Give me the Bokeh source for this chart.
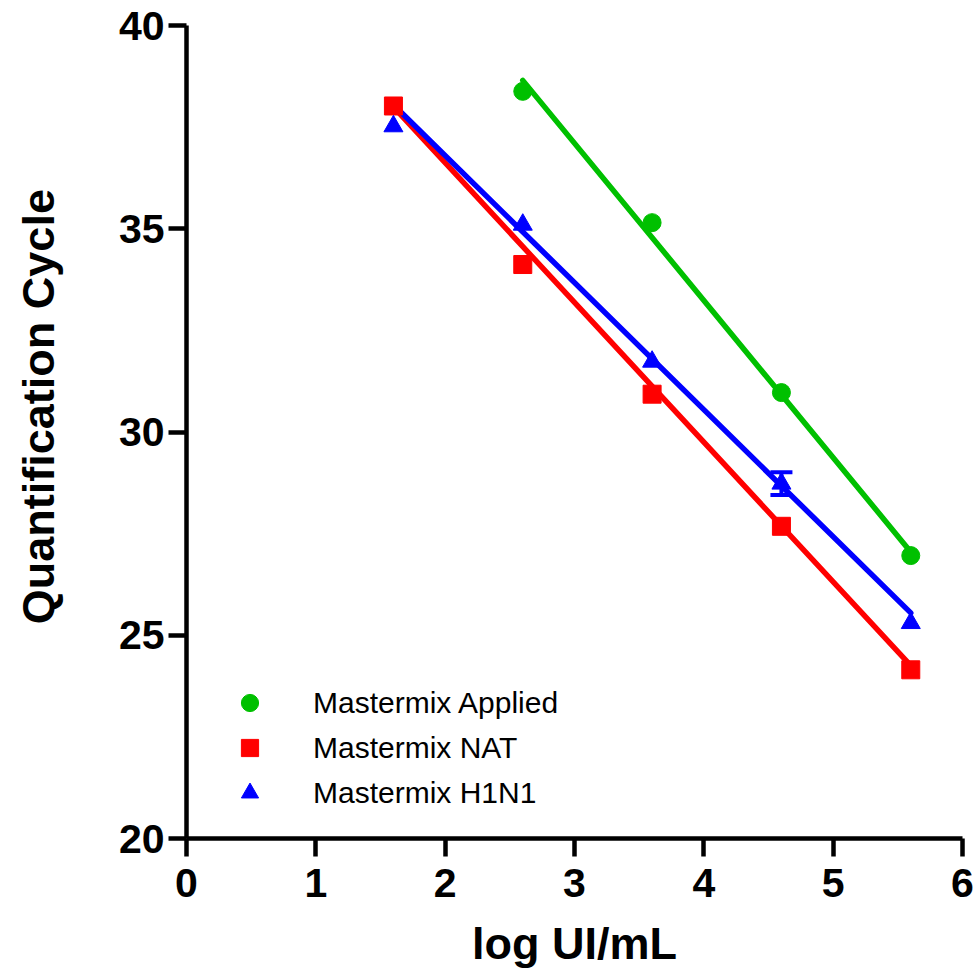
from bokeh.plotting import figure
from bokeh.layouts import row
from bokeh.models import (ColumnDataSource, FixedTicker, Legend, LegendItem,
                          Whisker, TeeHead)
from bokeh.core.properties import value
from bokeh.embed import file_html
from bokeh.resources import INLINE
import math

# ---- data ----
x_applied = [2.6, 3.6, 4.6, 5.6]
y_applied = [38.38, 35.15, 30.97, 26.96]

x_nat = [1.6, 2.6, 3.6, 4.6, 5.6]
y_nat = [38.02, 34.12, 30.93, 27.68, 24.15]

x_h1n1 = [1.6, 2.6, 3.6, 4.6, 5.6]
y_h1n1 = [37.52, 35.10, 31.73, 28.73, 25.30]
err_h1n1 = [0.0, 0.0, 0.0, 0.28, 0.0]

# regression lines (x range and end values)
fit_x_applied = [2.6, 5.6]
fit_y_applied = [38.65, 27.05]
fit_x_nat = [1.6, 5.6]
fit_y_nat = [38.0, 24.25]
fit_x_h1n1 = [1.6, 5.6]
fit_y_h1n1 = [38.05, 25.55]

x_ticks = [0, 1, 2, 3, 4, 5, 6]
y_ticks = [20, 25, 30, 35, 40]

labels = ["Mastermix Applied", "Mastermix NAT", "Mastermix H1N1"]
x_title = "log UI/mL"
y_title = "Quantification Cycle"
GREEN, RED, BLUE = "#00C000", "#FF0000", "#0000FF"

H = 977
TW = 80  # width of the strip holding the y title

p = figure(width=975 - TW, height=H, x_range=(0, 6), y_range=(20, 40),
           output_backend="svg", toolbar_location=None,
           min_border_left=186 - TW, min_border_right=13,
           min_border_top=25, min_border_bottom=139)
p.outline_line_color = None
p.grid.visible = False
p.background_fill_color = "white"

# lines
p.line(fit_x_applied, fit_y_applied, line_color=GREEN, line_width=5.5, line_cap="round")
p.line(fit_x_nat, fit_y_nat, line_color=RED, line_width=5.5, line_cap="round")
p.line(fit_x_h1n1, fit_y_h1n1, line_color=BLUE, line_width=5.5, line_cap="round")

# error bar on H1N1
err_src = ColumnDataSource(dict(
    x=[x for x, e in zip(x_h1n1, err_h1n1) if e > 0],
    upper=[y + e for y, e in zip(y_h1n1, err_h1n1) if e > 0],
    lower=[y - e for y, e in zip(y_h1n1, err_h1n1) if e > 0],
))
wh = Whisker(base="x", upper="upper", lower="lower", source=err_src,
             dimension="height", line_color=BLUE, line_width=4,
             upper_head=TeeHead(size=22, line_color=BLUE, line_width=4),
             lower_head=TeeHead(size=22, line_color=BLUE, line_width=4))
p.add_layout(wh)

# markers
r1 = p.scatter(x_applied, y_applied, marker="circle", size=18,
               fill_color=GREEN, line_color=GREEN)
r2 = p.scatter(x_nat, y_nat, marker="square", size=18,
               fill_color=RED, line_color=RED)
r3 = p.scatter(x_h1n1, y_h1n1, marker="triangle", size=19,
               fill_color=BLUE, line_color=BLUE)

legend = Legend(items=[LegendItem(label=labels[0], renderers=[r1]),
                       LegendItem(label=labels[1], renderers=[r2]),
                       LegendItem(label=labels[2], renderers=[r3])],
                location=(42, 24), padding=0, margin=0, spacing=2,
                glyph_width=43, glyph_height=43, label_standoff=42,
                label_text_font="Liberation Sans", label_text_font_size="30px",
                label_text_color="black",
                border_line_color=None, background_fill_alpha=0)
p.add_layout(legend, "center")

for ax in (p.xaxis[0], p.yaxis[0]):
    ax.axis_line_width = 4.5
    ax.axis_line_color = "black"
    ax.major_tick_line_width = 4.5
    ax.major_tick_line_color = "black"
    ax.major_tick_out = 18
    ax.major_tick_in = 0
    ax.minor_tick_out = 0
    ax.minor_tick_in = 0
    ax.major_label_text_font = "Liberation Sans"
    ax.major_label_text_font_style = "bold"
    ax.major_label_text_font_size = "41px"
    ax.major_label_text_color = "black"
    ax.axis_label_text_font = "Liberation Sans"
    ax.axis_label_text_font_style = "bold"
    ax.axis_label_text_font_size = "45px"
    ax.axis_label_text_color = "black"

p.xaxis.ticker = FixedTicker(ticks=x_ticks)
p.yaxis.ticker = FixedTicker(ticks=y_ticks)
p.xaxis.axis_label = x_title
p.xaxis.major_label_standoff = 12
p.xaxis.axis_label_standoff = 18
p.yaxis.major_label_standoff = 4

# y title in a narrow strip to the left (pixel-scaled ranges), placed a little
# above the frame centre as in the reference
pt = figure(width=TW, height=H, x_range=(0, TW), y_range=(0, H),
            x_axis_type=None, y_axis_type=None,
            output_backend="svg", toolbar_location=None, min_border=0)
pt.outline_line_color = None
pt.grid.visible = False
pt.text(x=[38], y=[H - 458], text=[y_title], angle=math.pi / 2,
        text_align="center", text_baseline="middle",
        text_font=value("Liberation Sans"), text_font_style="bold",
        text_font_size="45px", text_color="black")

layout = row(pt, p, spacing=0)
open("out.html", "w").write(file_html(layout, INLINE))
